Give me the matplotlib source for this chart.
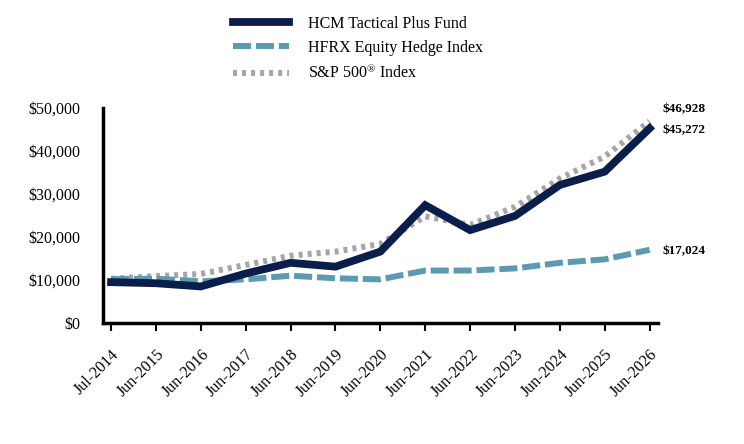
import matplotlib
matplotlib.use("Agg")
import matplotlib.pyplot as plt

plt.rcParams['font.family'] = ['Liberation Serif', 'DejaVu Serif']
plt.rcParams['lines.scale_dashes'] = False
plt.rcParams['mathtext.fontset'] = 'custom'
plt.rcParams['mathtext.rm'] = 'Liberation Serif'
plt.rcParams['mathtext.it'] = 'Liberation Serif:italic'
plt.rcParams['mathtext.bf'] = 'Liberation Serif:bold'

dates = ["Jul-2014", "Jun-2015", "Jun-2016", "Jun-2017", "Jun-2018", "Jun-2019",
         "Jun-2020", "Jun-2021", "Jun-2022", "Jun-2023", "Jun-2024", "Jun-2025", "Jun-2026"]
hcm = [9500, 9250, 8500, 11500, 14000, 13100, 16600, 27400, 21600, 24900, 32100, 35200, 45272]
hfrx = [10200, 10300, 9700, 10150, 11000, 10400, 10150, 12200, 12200, 12700, 14000, 14800, 17024]
sp500 = [10300, 10900, 11400, 13500, 15650, 16600, 18400, 24800, 22800, 27000, 33600, 38700, 46928]
yticks = [0, 10000, 20000, 30000, 40000, 50000]
end_labels = ["$45,272", "$17,024", "$46,928"]

fig = plt.figure(figsize=(7.44, 4.44), dpi=100)
ax = fig.add_axes([0.1384, 0.2725, 0.7456, 0.4843])

x = list(range(len(dates)))
c_hcm = "#0b1e4b"
c_hfrx = "#5b9ab1"
c_sp = "#a6a6a6"

l3, = ax.plot(x, sp500, color=c_sp, lw=4.3, linestyle=(0, (2.9, 3.6)), zorder=2,
              dash_capstyle='butt', label="S&P 500$^{\\mathrm{®}}$ Index")
l2, = ax.plot(x, hfrx, color=c_hfrx, lw=4.3, linestyle=(0, (13, 3.5)), zorder=3,
              dash_capstyle='butt', label="HFRX Equity Hedge Index")
l1, = ax.plot(x, hcm, color=c_hcm, lw=5.6, zorder=4, solid_joinstyle='miter',
              label="HCM Tactical Plus Fund")

ax.set_xlim(-0.18, 12.18)
ax.set_ylim(0, 50000)
ax.set_xticks(x)
ax.set_xticklabels(dates, rotation=45, ha='right', rotation_mode='anchor', fontsize=11.5)
ax.set_yticks(yticks)
ax.set_yticklabels([f"${v:,.0f}" for v in yticks], fontsize=11.5)
ax.tick_params(axis='y', length=0, pad=16)
ax.tick_params(axis='x', length=6, width=1.5, direction='out', pad=11)
for s in ['top', 'right']:
    ax.spines[s].set_visible(False)
for s in ['left', 'bottom']:
    ax.spines[s].set_linewidth(2.5)

finals = [hcm[-1], hfrx[-1], sp500[-1]]
offsets = [(9, -1), (9, -1), (9, 9)]
for val, lab, off in zip(finals, end_labels, offsets):
    ax.annotate(lab, xy=(x[-1], val), xytext=off, textcoords='offset points',
                fontsize=9.5, fontweight='bold', va='center', ha='left', annotation_clip=False)

fig.legend(handles=[l1, l2, l3], loc='upper left', bbox_to_anchor=(0.305, 0.979),
           frameon=False, fontsize=11.5, handlelength=3.5, handletextpad=1.15,
           labelspacing=0.52, borderaxespad=0)

fig.savefig("out.png", dpi=100)
